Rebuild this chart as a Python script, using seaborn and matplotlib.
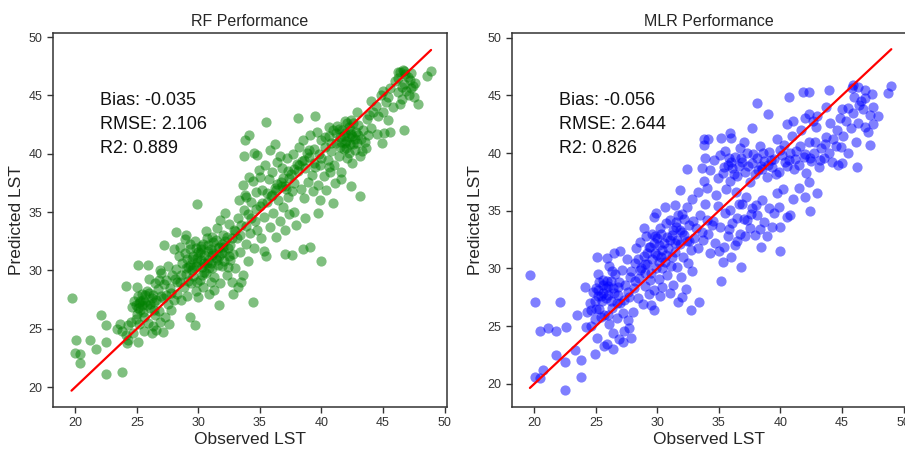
import matplotlib
matplotlib.use("Agg")
import matplotlib.pyplot as plt
import seaborn as sns
import pandas as pd

# ---------------- data ----------------
rf_points = [
    # low outliers
    (19.7, 27.6), (20.1, 24.0), (20.0, 22.9), (20.4, 22.8), (20.4, 22.1), (21.2, 24.0), (21.7, 23.3),
    (22.1, 26.2), (22.5, 25.3), (22.5, 23.9), (22.5, 21.1), (23.8, 21.3), (24.1, 28.7), (23.4, 25.0),
    (23.6, 25.4), (24.3, 24.0), (25.1, 23.9), (25.1, 30.5), (25.9, 30.5), (27.2, 32.2), (28.2, 33.3),
    (29.3, 26.0), (29.7, 25.3), (29.9, 35.7), (31.7, 27.0), (32.8, 28.0), (33.5, 29.0), (34.4, 27.3),
    (35.5, 42.7), (33.8, 41.2), (34.1, 41.6), (34.8, 39.9), (37.0, 31.4), (37.6, 31.3), (38.5, 31.8),
    (39.1, 32.0), (40.0, 30.8), (38.1, 43.1), (39.5, 43.2), (40.6, 42.3), (42.4, 37.2), (43.1, 36.4),
    (40.9, 35.8), (44.9, 40.9), (45.6, 41.9), (46.7, 42.0), (47.8, 44.3), (48.6, 46.7), (48.9, 47.1),
    (45.0, 45.4), (46.2, 47.0), (46.7, 47.1), (47.3, 45.6), (46.4, 44.3), (44.0, 44.5), (42.9, 43.6),
    (39.9, 36.0), (39.7, 34.9), (38.7, 34.5), (37.8, 35.0), (37.0, 37.2), (41.6, 37.8),
    # 24-28
    (24.3, 25.3), (24.5, 25.6), (24.6, 26.9), (24.8, 27.4), (24.9, 25.8), (25.0, 26.3), (25.1, 27.8),
    (25.2, 27.2), (25.3, 26.6), (25.4, 28.0), (25.5, 27.5), (25.6, 26.0), (25.7, 27.9), (25.8, 27.0),
    (25.9, 25.5), (26.0, 28.1), (26.1, 26.8), (26.2, 27.6), (26.3, 25.2), (26.4, 27.3), (26.5, 26.2),
    (26.6, 24.9), (26.7, 28.4), (26.8, 26.5), (26.9, 25.6), (27.0, 27.8), (27.1, 24.7), (27.2, 28.8),
    (27.3, 26.0), (27.4, 29.2), (27.5, 27.1), (27.6, 25.4), (27.7, 28.5), (27.8, 26.6), (27.9, 29.6),
    (28.0, 27.5), (25.2, 25.4), (24.7, 24.6), (25.6, 24.8), (26.2, 24.6), (26.8, 29.2), (27.0, 29.8),
    (26.5, 28.9), (24.1, 24.5), (23.8, 24.8), (24.2, 23.8), (25.0, 28.6), (26.0, 29.3), (26.9, 30.0),
    (27.5, 30.4), (25.4, 27.0), (25.8, 28.2), (26.3, 27.9), (25.1, 26.8), (26.6, 27.5), (24.9, 27.0),
    (25.3, 27.4), (25.7, 27.3), (26.1, 27.1), (25.5, 26.4), (26.4, 26.6), (27.1, 27.6), (27.4, 27.9),
    (27.8, 28.1),
    # 28-33
    (28.1, 29.3), (28.2, 30.1), (28.3, 28.0), (28.4, 31.2), (28.5, 29.0), (28.6, 27.5), (28.7, 30.6),
    (28.8, 28.6), (28.9, 31.5), (29.0, 29.7), (29.1, 27.8), (29.2, 30.3), (29.3, 32.3), (29.4, 28.9),
    (29.5, 31.0), (29.6, 29.5), (29.7, 32.5), (29.8, 28.2), (29.9, 30.7), (30.0, 31.6), (30.1, 29.2),
    (30.2, 32.1), (30.3, 30.3), (30.4, 28.6), (30.5, 31.3), (30.6, 29.8), (30.7, 32.8), (30.8, 30.9),
    (30.9, 28.0), (31.0, 31.8), (31.1, 30.2), (31.2, 32.4), (31.3, 29.4), (31.4, 31.1), (31.5, 33.6),
    (31.6, 30.5), (31.7, 32.0), (31.8, 28.9), (31.9, 31.5), (32.0, 33.0), (32.1, 30.8), (32.2, 32.5),
    (32.3, 29.6), (32.4, 31.9), (32.5, 34.0), (32.6, 30.9), (32.7, 32.8), (32.8, 31.4), (32.9, 33.5),
    (33.0, 30.2), (28.5, 32.0), (29.0, 33.0), (29.3, 31.8), (29.8, 30.4), (30.2, 30.9), (30.5, 29.9),
    (30.8, 31.7), (31.2, 31.5), (31.6, 31.9), (31.9, 32.3), (30.1, 31.5), (29.5, 30.0), (30.9, 30.2),
    (32.4, 30.3), (31.0, 29.0), (29.9, 29.0), (30.6, 33.4), (31.8, 34.3), (32.2, 34.9), (33.2, 28.6),
    (28.0, 31.8), (28.9, 32.7), (31.3, 28.3), (30.0, 27.7), (32.7, 29.0), (29.6, 31.2), (30.4, 32.3),
    (31.5, 30.9), (30.7, 30.6), (29.2, 29.1), (31.1, 32.9), (32.1, 31.6),
    (28.3, 29.0), (28.6, 29.6), (29.0, 30.2), (29.3, 30.5), (29.6, 30.3), (29.9, 31.1), (30.2, 31.8),
    (30.5, 30.6), (30.8, 32.2), (31.1, 31.3), (31.4, 32.6), (31.7, 31.2), (32.0, 32.0), (32.3, 32.9),
    (32.6, 32.2), (33.0, 33.4), (29.1, 31.0), (29.8, 31.9), (30.3, 29.6), (31.0, 30.6), (31.9, 30.4),
    (32.5, 31.2),
    # 33-38
    (33.1, 32.8), (33.2, 34.5), (33.3, 36.0), (33.4, 31.6), (33.5, 33.9), (33.6, 37.3), (33.7, 35.2),
    (33.8, 36.5), (33.9, 32.3), (34.0, 34.8), (34.1, 38.0), (34.2, 33.2), (34.3, 35.9), (34.4, 37.7),
    (34.5, 31.9), (34.6, 34.2), (34.7, 36.7), (34.8, 33.5), (34.9, 38.6), (35.0, 35.5), (35.1, 32.8),
    (35.2, 36.9), (35.3, 34.6), (35.4, 39.0), (35.5, 31.2), (35.6, 35.9), (35.7, 37.8), (35.8, 33.7),
    (35.9, 36.4), (36.0, 38.4), (36.1, 34.9), (36.2, 37.1), (36.3, 32.9), (36.4, 39.3), (36.5, 36.0),
    (36.6, 34.2), (36.7, 37.6), (36.8, 38.8), (36.9, 35.4), (37.0, 33.5), (37.1, 37.0), (37.2, 39.6),
    (37.3, 36.3), (37.4, 34.8), (37.5, 38.3), (37.6, 36.8), (37.7, 40.0), (37.8, 37.5), (37.9, 33.9),
    (38.0, 39.1), (33.9, 36.3), (33.7, 39.8), (34.5, 40.1), (35.0, 38.0), (36.2, 40.8), (35.8, 40.3),
    (36.6, 39.8), (34.0, 30.8), (33.6, 29.6), (35.3, 31.7), (36.3, 36.9), (36.8, 37.2), (37.4, 37.9),
    (38.6, 39.5), (38.2, 39.0), (37.8, 38.7), (37.3, 38.5), (36.9, 37.9), (36.4, 37.4), (36.0, 36.5),
    (35.6, 36.6), (35.2, 35.8), (34.7, 35.3), (34.3, 34.5), (33.9, 33.8), (33.4, 33.0),
    # 38-44
    (38.1, 38.5), (38.2, 40.6), (38.3, 37.0), (38.4, 39.4), (38.5, 41.2), (38.6, 36.2), (38.7, 38.8),
    (38.8, 40.1), (38.9, 37.6), (39.0, 39.7), (39.1, 41.6), (39.2, 38.2), (39.3, 36.8), (39.4, 40.4),
    (39.5, 38.9), (39.6, 41.9), (39.7, 37.3), (39.8, 40.0), (39.9, 39.0), (40.0, 41.2), (40.2, 38.1),
    (40.3, 40.6), (40.4, 36.9), (40.5, 39.5), (40.6, 41.5), (40.7, 38.4), (40.8, 40.2), (40.9, 42.0),
    (41.0, 39.0), (41.1, 37.5), (41.2, 40.9), (41.3, 42.4), (41.4, 39.8), (41.5, 41.4), (41.6, 38.4),
    (41.7, 42.0), (41.8, 40.4), (41.9, 42.8), (42.0, 41.1), (42.1, 39.6), (42.2, 42.3), (42.3, 40.8),
    (42.4, 41.7), (42.5, 39.2), (42.6, 42.6), (42.7, 40.3), (42.8, 41.9), (42.9, 40.9), (43.0, 42.5),
    (43.1, 39.8), (43.2, 41.3), (43.3, 40.2), (43.4, 42.0), (43.5, 41.0), (43.6, 40.5), (43.7, 43.0),
    (43.8, 41.6), (44.0, 42.2), (42.0, 40.5), (41.6, 41.0), (42.5, 41.5), (41.9, 41.8), (42.2, 40.1),
    (40.0, 39.6), (39.4, 39.2), (40.6, 38.9), (42.3, 42.0), (42.7, 41.3), (41.8, 41.5), (42.1, 42.6),
    (40.3, 41.4), (40.8, 40.9), (41.2, 41.8), (41.5, 40.6), (41.9, 40.9), (42.2, 41.4), (42.6, 40.8),
    (43.0, 41.6), (42.4, 42.9), (41.4, 42.1), (39.0, 40.3),
    # 44-48
    (44.2, 43.6), (44.4, 44.1), (44.6, 43.2), (44.8, 45.0), (45.0, 43.6), (45.2, 44.4), (45.4, 42.9),
    (45.6, 45.6), (45.8, 44.0), (46.0, 46.2), (46.2, 45.3), (46.4, 47.0), (46.5, 44.7), (46.7, 46.0),
    (46.9, 45.4), (47.0, 46.6), (47.1, 45.0), (47.2, 46.3), (47.4, 45.8), (47.5, 44.9), (46.6, 47.2),
    (44.5, 41.7), (45.1, 41.8), (43.9, 43.3), (46.2, 46.5), (46.8, 46.8), (47.3, 46.9), (46.5, 45.7),
    (45.4, 44.9), (47.6, 46.1),
]

mlr_points = [
    # outliers
    (19.65, 29.45), (20.1, 27.1), (20.5, 24.6), (21.1, 24.8), (21.8, 24.6), (22.1, 27.1), (22.6, 24.9),
    (21.8, 22.5), (22.5, 21.9), (22.5, 19.5), (20.05, 20.6), (20.5, 20.5), (20.7, 21.2), (23.8, 20.6),
    (23.8, 22.1), (23.3, 22.9), (23.5, 26.0), (24.1, 28.4), (24.9, 22.6), (25.1, 31.0), (25.9, 30.9),
    (29.7, 26.4), (31.7, 27.1), (32.7, 26.4), (33.4, 27.1), (35.2, 28.9), (36.8, 30.1), (35.4, 31.9),
    (36.5, 32.4), (38.4, 31.9), (40.0, 31.5), (40.0, 33.6), (40.8, 34.6), (42.4, 35.0), (43.0, 36.5),
    (42.3, 37.5), (46.2, 38.8), (45.0, 39.1), (47.3, 40.7), (38.1, 44.3), (39.0, 43.4), (40.7, 44.9),
    (41.8, 45.3), (42.3, 45.3), (43.9, 45.5), (42.3, 43.4), (37.7, 42.2), (35.9, 41.7), (33.8, 41.2),
    (34.1, 41.2), (33.8, 40.7), (32.4, 38.6), (31.8, 36.8), (31.4, 35.5), (29.7, 34.5), (48.7, 45.2),
    (49.0, 45.8), (45.9, 45.9), (46.3, 45.7), (46.9, 45.5), (47.4, 45.1), (47.9, 43.2), (47.5, 42.5),
    (46.9, 42.3), (46.4, 44.2), (45.5, 43.9),
    # 24-28
    (24.3, 26.2), (24.5, 27.0), (24.6, 25.0), (24.8, 28.0), (25.0, 26.5), (25.1, 24.0), (25.2, 27.6),
    (25.3, 28.8), (25.4, 25.8), (25.5, 27.2), (25.6, 29.0), (25.7, 26.0), (25.8, 28.3), (25.9, 23.5),
    (26.0, 27.7), (26.1, 25.2), (26.2, 28.9), (26.3, 26.6), (26.4, 24.4), (26.5, 27.9), (26.6, 29.5),
    (26.7, 25.7), (26.8, 28.4), (26.9, 23.9), (27.0, 27.0), (27.1, 29.9), (27.2, 26.1), (27.3, 24.6),
    (27.4, 28.6), (27.5, 30.8), (27.6, 25.5), (27.7, 27.5), (27.8, 29.3), (27.9, 24.0), (28.0, 26.2),
    (25.2, 29.5), (26.1, 30.2), (26.5, 31.3), (27.0, 31.5), (24.9, 25.6), (24.2, 24.9), (25.7, 23.3),
    (26.4, 23.0), (27.2, 23.6), (27.7, 24.8), (25.3, 26.5), (26.0, 26.0), (26.7, 27.0), (25.6, 27.9),
    (26.3, 29.8), (25.0, 28.3), (25.9, 28.9), (26.9, 28.8), (25.4, 27.6),
    (25.2, 28.1), (25.6, 28.6), (26.0, 28.5), (26.4, 28.3), (26.8, 27.7), (25.8, 27.4), (26.2, 27.2),
    (27.3, 27.3), (27.6, 28.0), (24.9, 27.2), (24.6, 26.4), (27.9, 29.8),
    # 28-33
    (28.1, 28.3), (28.2, 30.5), (28.3, 31.8), (28.4, 27.4), (28.5, 29.2), (28.6, 32.3), (28.7, 30.0),
    (28.8, 26.9), (28.9, 31.1), (29.0, 28.5), (29.1, 32.8), (29.2, 30.4), (29.3, 27.8), (29.4, 31.9),
    (29.5, 29.6), (29.6, 33.0), (29.7, 28.1), (29.8, 31.3), (29.9, 30.0), (30.0, 32.6), (30.1, 29.1),
    (30.2, 33.5), (30.3, 31.0), (30.4, 28.4), (30.5, 32.2), (30.6, 30.6), (30.7, 33.9), (30.8, 29.4),
    (30.9, 31.8), (31.0, 34.2), (31.1, 30.2), (31.2, 32.9), (31.3, 28.6), (31.4, 31.4), (31.5, 33.6),
    (31.6, 30.1), (31.7, 34.6), (31.8, 32.1), (31.9, 29.3), (32.0, 33.2), (32.1, 31.0), (32.2, 34.3),
    (32.3, 28.2), (32.4, 32.4), (32.5, 30.5), (32.6, 33.8), (32.7, 31.6), (32.8, 29.8), (32.9, 34.1),
    (33.0, 32.6), (29.2, 31.3), (29.6, 30.8), (30.0, 31.2), (30.4, 30.0), (30.8, 32.7), (31.2, 31.0),
    (31.6, 32.5), (30.2, 27.6), (29.5, 26.8), (31.0, 27.9), (29.9, 34.8), (30.6, 35.3), (28.9, 33.5),
    (32.0, 27.5), (32.4, 35.3), (29.0, 30.4), (30.1, 30.6), (31.3, 33.3), (29.4, 29.0),
    (28.2, 28.9), (28.6, 29.9), (29.0, 29.6), (29.3, 31.9), (29.7, 32.2), (30.1, 32.0), (30.4, 31.6),
    (30.7, 31.2), (31.0, 32.5), (31.4, 32.2), (31.8, 33.3), (32.2, 32.9), (32.6, 32.4), (30.3, 33.0),
    (29.8, 32.8), (31.5, 34.0), (32.0, 34.7), (28.4, 30.8),
    # upper band 33-45
    (34.3, 38.5), (34.6, 39.4), (34.9, 37.8), (35.1, 39.8), (35.3, 38.3), (35.5, 40.2), (35.7, 39.0),
    (35.9, 37.6), (36.1, 38.7), (36.3, 39.7), (36.5, 38.0), (36.7, 40.4), (36.9, 39.2), (37.1, 38.4),
    (37.3, 40.0), (37.5, 37.5), (37.7, 39.1), (37.9, 38.2), (38.1, 39.6), (38.3, 40.6), (38.5, 38.6),
    (38.7, 39.3), (38.9, 37.9), (39.1, 40.1), (39.3, 38.8), (39.5, 39.5), (39.7, 41.2), (39.9, 38.4),
    (40.1, 39.8), (40.3, 40.7), (40.5, 38.9), (40.7, 39.4), (40.9, 41.5), (41.1, 38.6), (41.3, 40.2),
    (41.5, 39.0), (41.7, 42.0), (41.9, 39.7), (42.1, 38.3), (42.3, 41.0), (42.5, 39.3), (42.7, 40.0),
    (42.9, 42.3), (43.1, 38.8), (43.3, 40.4), (43.5, 39.6), (43.7, 41.4), (43.9, 40.0), (44.2, 39.2),
    (44.5, 40.6), (34.0, 37.0), (34.8, 36.4), (35.6, 36.9), (36.4, 36.6), (37.2, 36.2), (33.6, 38.7),
    (33.9, 39.6), (36.0, 41.3), (37.0, 41.0), (35.2, 41.3), (41.0, 42.8), (42.0, 43.0), (40.5, 42.5),
    (42.6, 42.8), (43.0, 43.2), (44.0, 42.6), (43.7, 44.0), (44.8, 43.0), (36.0, 39.2), (36.6, 38.9),
    (38.4, 38.9), (39.0, 39.0),
    (35.4, 38.8), (35.8, 39.6), (36.2, 38.2), (36.8, 39.6), (37.4, 38.9), (37.8, 39.9), (38.2, 38.5),
    (38.6, 40.0), (39.2, 39.4), (39.6, 38.2), (40.0, 40.3), (40.4, 39.2), (40.8, 40.0), (41.2, 39.5),
    (41.6, 40.6), (42.0, 39.9), (42.4, 39.6), (42.8, 41.0), (43.2, 39.4), (43.6, 40.8),
    # lower group 33-42
    (33.1, 33.5), (33.3, 31.8), (33.5, 34.6), (33.7, 32.5), (33.9, 35.6), (34.1, 33.0), (34.3, 31.3),
    (34.5, 34.1), (34.7, 32.2), (34.9, 35.4), (35.1, 33.6), (35.3, 30.6), (35.5, 34.8), (35.7, 32.8),
    (35.9, 35.1), (36.1, 33.9), (36.3, 32.0), (36.5, 34.4), (36.7, 33.0), (36.9, 35.6), (37.1, 32.8),
    (37.3, 34.2), (37.5, 33.5), (37.7, 35.2), (37.9, 32.9), (38.1, 34.6), (38.3, 33.4), (38.5, 35.9),
    (38.7, 34.0), (38.9, 32.8), (39.1, 35.2), (39.3, 33.6), (39.5, 34.8), (39.7, 36.5), (39.9, 35.3),
    (40.2, 36.9), (40.5, 34.5), (41.0, 36.0), (41.5, 37.0), (42.0, 36.2), (33.3, 36.6), (33.8, 37.6),
    (32.8, 36.0), (35.0, 31.5), (36.0, 31.0), (36.6, 35.6), (37.0, 34.3), (37.6, 34.7), (34.4, 33.8),
    (35.8, 33.4), (38.0, 35.5), (33.6, 33.2), (34.0, 34.2),
    # 44-48
    (44.3, 41.2), (44.6, 42.0), (44.9, 40.5), (45.1, 41.5), (45.3, 42.8), (45.5, 40.0), (45.7, 42.2),
    (45.9, 43.5), (46.1, 41.0), (46.3, 42.6), (46.5, 44.5), (46.7, 43.8), (46.9, 44.8), (47.1, 41.8),
    (47.3, 43.3), (47.5, 44.0), (46.0, 44.9), (45.8, 45.6), (45.0, 43.8), (44.7, 39.0),
]

titles = ["RF Performance", "MLR Performance"]
stats_text = ["Bias: -0.035\nRMSE: 2.106\nR2: 0.889",
              "Bias: -0.056\nRMSE: 2.644\nR2: 0.826"]
colors = ["green", "blue"]
ticks = [20, 25, 30, 35, 40, 45, 50]

# ---------------- plotting ----------------
sns.set_theme(style="ticks")
plt.rcParams["font.family"] = ["Liberation Sans", "DejaVu Sans"]
plt.rcParams["axes.edgecolor"] = "#333333"
plt.rcParams["xtick.color"] = "#333333"
plt.rcParams["ytick.color"] = "#333333"

fig = plt.figure(figsize=(9.05, 4.5), dpi=100)
ax_rects = [[0.0586, 0.0956, 0.4354, 0.831], [0.5658, 0.0956, 0.4354, 0.831]]
ylims = [(18.3, 50.35), (18.0, 50.4)]

for i, pts in enumerate([rf_points, mlr_points]):
    df = pd.DataFrame(pts, columns=["Observed LST", "Predicted LST"])
    ax = fig.add_axes(ax_rects[i])
    sns.scatterplot(data=df, x="Observed LST", y="Predicted LST", ax=ax,
                    color=colors[i], alpha=0.5, s=54, linewidth=0)
    lo = df["Observed LST"].min()
    hi = df["Observed LST"].max()
    sns.lineplot(x=[lo, hi], y=[lo, hi], ax=ax, color="red", linewidth=1.6)
    ax.set_xlim(18.2, 50.2)
    ax.set_ylim(*ylims[i])
    ax.set_xticks(ticks)
    ax.set_yticks(ticks)
    ax.tick_params(labelsize=9, length=4, width=1)
    for sp in ax.spines.values():
        sp.set_visible(True)
        sp.set_linewidth(1.1)
    ax.set_title(titles[i], fontsize=11.5, pad=5)
    ax.set_xlabel("Observed LST", fontsize=12.5, labelpad=2)
    ax.set_ylabel("Predicted LST", fontsize=12.5, labelpad=3)
    ax.text(22.0, 45.3, stats_text[i], fontsize=13, va="top", ha="left",
            linespacing=1.55, color="#111111")

fig.savefig("out.png", dpi=100)
